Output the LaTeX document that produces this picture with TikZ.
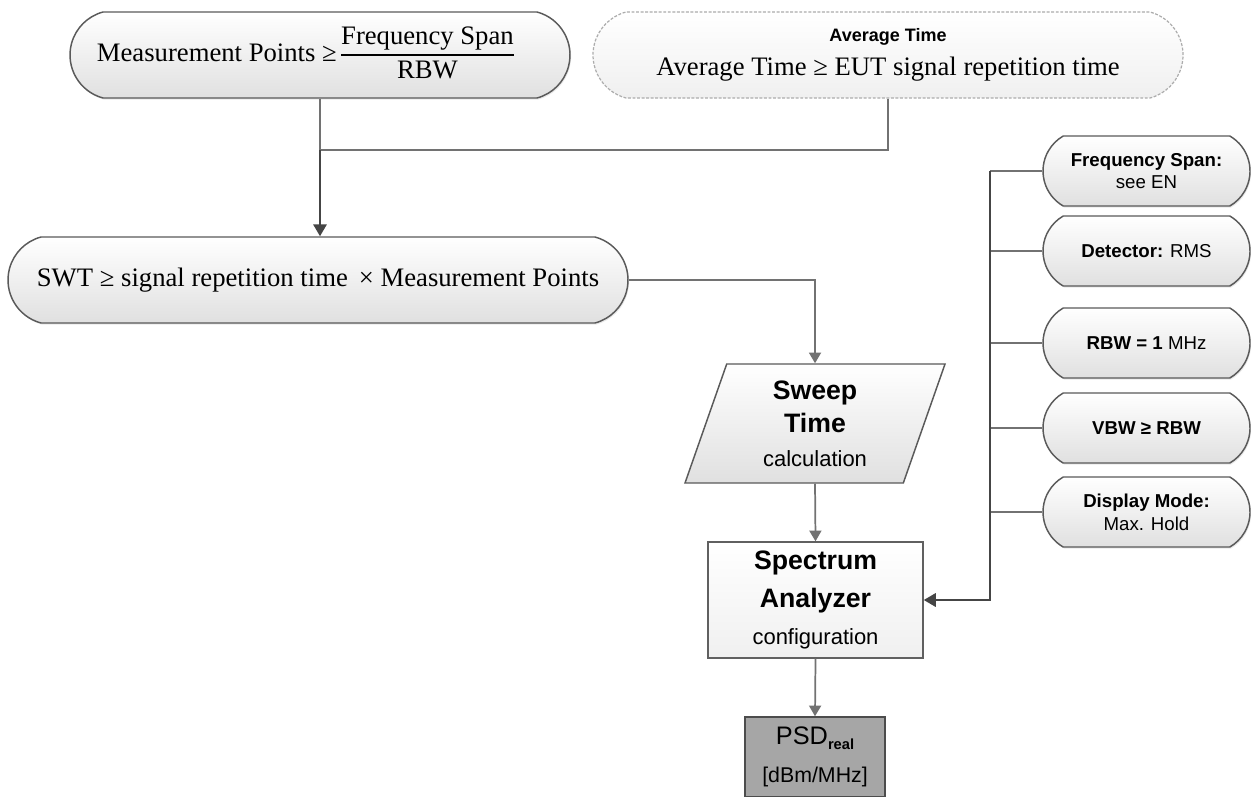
\documentclass[tikz,border=0pt]{standalone}
\usepackage{fontspec}
\setmainfont{Liberation Serif}
\setsansfont{Liberation Sans}
\usetikzlibrary{shapes.misc,shapes.geometric,arrows.meta,shadows}
\definecolor{bord}{HTML}{5A5A5A}
\definecolor{lin}{HTML}{727272}
\definecolor{darkl}{HTML}{454545}
\definecolor{pillbot}{HTML}{E0E0E0}
\definecolor{psdfill}{HTML}{A6A6A6}
\def\pxu{0.75pt}
\setlength{\arrayrulewidth}{0.9pt}
\begin{document}
\begin{tikzpicture}[x=0.75pt,y=-0.75pt,
  shad/.style={drop shadow={opacity=0.18,shadow xshift=0.8pt,shadow yshift=-1.2pt}},
  pill/.style={rounded rectangle, rounded rectangle arc length=150, draw=bord, line width=1.1pt,
    top color=white, bottom color=pillbot, inner sep=0pt, align=center, shad},
  dpill/.style={rounded rectangle, rounded rectangle arc length=150, draw=gray!65, line width=0.9pt,
    dash pattern=on 2.2pt off 1.2pt, top color=white, bottom color=gray!12, inner sep=0pt, align=center},
  side/.style={pill, rounded rectangle arc length=120, minimum width=207*\pxu, minimum height=70*\pxu,
    font=\sffamily\fontsize{14}{17}\selectfont},
  serif/.style={font=\rmfamily\fontsize{20}{24}\selectfont},
  sweepbox/.style={trapezium, trapezium left angle=64, trapezium right angle=116, trapezium stretches body,
    minimum width=260*\pxu, minimum height=119*\pxu, inner sep=0pt, draw=bord, line width=1.1pt,
    top color=white, bottom color=pillbot, align=center, font=\sffamily\fontsize{20}{25}\selectfont},
  specbox/.style={rectangle, minimum width=215*\pxu, minimum height=116*\pxu, inner sep=0pt, draw=gray!75!black,
    line width=1.1pt, top color=white, bottom color=gray!12, align=center, font=\sffamily\fontsize{20}{28}\selectfont},
  psdbox/.style={rectangle, minimum width=140*\pxu, minimum height=80*\pxu, inner sep=0pt, draw=gray!60!black,
    line width=1.1pt, fill=psdfill, align=center, font=\sffamily\fontsize{19}{28}\selectfont},
  conn/.style={draw=lin, line width=1.3pt},
  arr/.style={conn, -{Triangle[length=8pt,width=9pt]}},
  darr/.style={draw=darkl, line width=1.7pt, -{Triangle[length=9pt,width=10pt]}},
]
\useasboundingbox (0,0) rectangle (1251,796);
\fill[white] (0,0) rectangle (1251,796);

% top nodes
\node[pill, serif, minimum width=500*\pxu, minimum height=86*\pxu] (mp) at (320,55)
  {Measurement Points ≥\,\begin{tabular}{@{}c@{}}Frequency Span\\\hline RBW\end{tabular}\hspace*{22pt}};
\node[dpill, serif, minimum width=590*\pxu, minimum height=86*\pxu] (at) at (888,55)
  {{\sffamily\bfseries\fontsize{13.5}{16}\selectfont Average Time}\\[2pt]Average Time ≥ EUT signal repetition time};

\node[pill, serif, minimum width=620*\pxu, minimum height=86*\pxu] (swt) at (318,280)
  {SWT ≥ signal repetition time \,× Measurement Points};

\node[sweepbox] (sw) at (815,423.5)
  {\bfseries Sweep\\\bfseries Time\\\mdseries\fontsize{16.5}{25}\selectfont calculation};

\node[specbox] (sa) at (815.5,600)
  {\bfseries Spectrum\\\bfseries Analyzer\\\mdseries\fontsize{16.5}{28}\selectfont configuration};

\node[psdbox] (psd) at (815,757)
  {PSD\raisebox{-0.35ex}{\fontsize{11}{12}\selectfont\bfseries real}\\\fontsize{16}{28}\selectfont [dBm/MHz]};

% right side pills
\node[side] (fs) at (1146.5,171) {\textbf{Frequency Span:}\\see EN};
\node[side] (de) at (1146.5,251) {\textbf{Detector:} RMS};
\node[side] (rb) at (1146.5,343) {\textbf{RBW = 1} MHz};
\node[side] (vb) at (1146.5,428) {\textbf{VBW ≥ RBW}};
\node[side] (dm) at (1146.5,512) {\textbf{Display Mode:}\\Max. Hold};

% connectors
\coordinate (j) at (320,150);
\coordinate (bus) at (990,600);
\draw[conn] (mp.south) -- (j);
\draw[conn] (at.south) |- (j);
\draw[darr] (j) -- (j |- swt.north);
\draw[arr] (swt.east) -| (sw.north);
\draw[arr] (sw.south) -- (sa.north);
\draw[arr] (sa.south) -- (psd.north);
\foreach \n in {fs,de,rb,vb,dm} \draw[conn] (\n.west) -- (\n.west -| bus);
\draw[darr] (fs.west -| bus) -- (bus) -- (sa.east);
\end{tikzpicture}
\end{document}
